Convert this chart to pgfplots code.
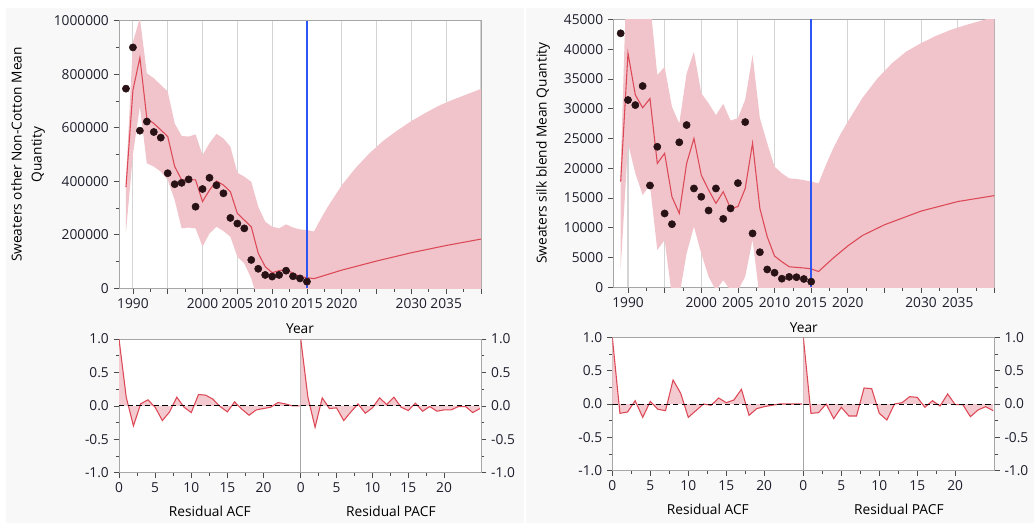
\documentclass[border=0pt]{standalone}
\usepackage{fontspec}
\setmainfont{Open Sans}
\usepackage{pgfplots}
\usepackage{pgfplotstable}
\pgfplotsset{compat=1.18}

\definecolor{band}{RGB}{240,196,202}
\definecolor{fitline}{RGB}{221,72,86}
\definecolor{dotc}{RGB}{40,18,22}
\definecolor{acffill}{RGB}{243,202,208}
\definecolor{bg}{RGB}{248,248,248}
\definecolor{framec}{RGB}{166,166,166}
\definecolor{gridc}{RGB}{212,212,212}
\definecolor{ticklab}{RGB}{30,30,45}
\definecolor{vline}{RGB}{45,85,245}

% residual autocorrelations, lags 0..25
\pgfplotstableread{
lag acfL pacfL acfR pacfR
0  1.00  1.00  1.00  1.00
1  0.13  0.13 -0.14 -0.14
2 -0.30 -0.32 -0.12 -0.13
3  0.03  0.12  0.05  0.00
4  0.09 -0.04 -0.20 -0.22
5 -0.02 -0.03  0.04 -0.05
6 -0.22 -0.22 -0.08 -0.18
7 -0.09 -0.09 -0.10 -0.18
8  0.13  0.03  0.36  0.24
9 -0.02 -0.11  0.16  0.23
10 -0.10 -0.03 -0.20 -0.14
11  0.17  0.12 -0.10 -0.24
12  0.16  0.02  0.00  0.00
13  0.10  0.13 -0.02  0.02
14 -0.01 -0.02  0.09  0.11
15 -0.09 -0.07  0.02  0.10
16  0.06  0.04  0.06 -0.05
17 -0.05 -0.08  0.22  0.05
18 -0.14 -0.01 -0.17 -0.03
19 -0.06 -0.08 -0.07  0.15
20 -0.04 -0.06 -0.04 -0.01
21 -0.02 -0.06 -0.02 -0.01
22  0.05 -0.01  0.00 -0.19
23  0.03 -0.01  0.00 -0.09
24  0.00 -0.10  0.00 -0.04
25  0.00 -0.04  0.00 -0.10
}\corr

\pgfplotsset{
  jmp/.style={scale only axis, axis background/.style={fill=white},
    axis line style={framec}, tick style={black!70, line width=0.5pt},
    tick align=outside, major tick length=4pt, minor tick length=2.5pt,
    tick label style={text=ticklab},
    /pgf/number format/assume math mode=true,
    /pgf/number format/1000 sep={}, scaled ticks=false},
  top/.style={jmp, xmin=1988, xmax=2040, ymin=0,
    xtick={1990,1995,...,2040},
    xticklabels={1990,,2000,2005,2010,2015,2020,,2030,2035,},
    yticklabel style={/pgf/number format/fixed, /pgf/number format/precision=0},
    minor x tick num=1, xmajorgrids, grid style={gridc, line width=0.8pt},
    xtick pos=bottom, ytick pos=left,
    xlabel=Year, xlabel style={at={(axis description cs:0.5,0)}, anchor=center, yshift=-30pt}},
  corr/.style={jmp, xmin=0, xmax=25.15, ymin=-1, ymax=1,
    ytick={-1,-0.5,0,0.5,1}, minor y tick num=1,
    xtick={0,5,10,15,20}, minor x tick num=1, xtick pos=bottom,
    yticklabel style={/pgf/number format/fixed, /pgf/number format/fixed zerofill, /pgf/number format/precision=1},
    xlabel style={at={(axis description cs:0.5,0)}, anchor=center, yshift=-29pt}},
  bandfill/.style={fill=band, draw=none},
  fit/.style={fitline, line width=0.8pt},
  obs/.style={only marks, mark=*, mark size=2.7pt, draw=dotc, fill=dotc},
  cut/.style={color=vline, line width=1.1pt},
  acfband/.style={fill=acffill, draw=none},
  acfline/.style={fitline, line width=0.8pt},
  zeroline/.style={black, dashed, line width=0.7pt, dash pattern=on 4pt off 2.5pt},
}

\begin{document}
\fontsize{10.3}{12.4}\selectfont
\begin{tikzpicture}
\useasboundingbox (0,0) rectangle (775.5pt,-392.25pt);
\fill[bg] (4.5pt,-6pt) rectangle (775.5pt,-392.25pt);
\draw[white, line width=1.2pt] (393.75pt,-6pt) -- (393.75pt,-392.25pt);

% ---------- left forecast ----------
\begin{axis}[top, at={(89.25pt,-15.5pt)}, anchor=north west,
  width=271.5pt, height=200.75pt, ymax=1000000,
  ytick={0,200000,400000,600000,800000,1000000}, minor y tick num=1,
  ylabel={Sweaters other Non-Cotton Mean\\Quantity},
  ylabel style={align=center, font=\fontsize{10.3}{15}\selectfont,
    at={(axis description cs:-0.2514,0.5)}, anchor=center}]
\addplot[bandfill] coordinates {
 (1989,400000)(1990,920000)(1991,1010000)(1992,803000)(1993,785000)(1994,760000)
 (1995,735000)(1996,616000)(1997,569000)(1998,567000)(1999,575000)(2000,498000)
 (2001,542000)(2002,577000)(2003,560000)(2004,529000)(2005,432000)(2006,417000)
 (2007,398000)(2008,305000)(2009,249000)(2010,230000)(2011,224000)(2012,239000)
 (2013,227000)(2014,220000)(2015,218000)(2016,212000)(2017,260000)(2018,305000)
 (2019,345000)(2020,385000)(2022,450000)(2024,505000)(2026,552000)(2028,590000)
 (2030,625000)(2032,655000)(2034,683000)(2036,705000)(2038,725000)(2040,745000)
 (2040,-400000)(2016,-140000)(2008,-50000)(2007,37000)(2006,93000)(2005,118000)
 (2004,193000)(2003,214000)(2002,230000)(2001,205000)(2000,156000)(1999,224000)
 (1998,227000)(1997,224000)(1996,330000)(1995,405000)(1994,436000)(1993,455000)
 (1992,467000)(1991,680000)(1990,500000)(1989,210000)};
\addplot[fit] coordinates {
 (1989,378000)(1990,740000)(1991,862000)(1992,635000)(1993,616000)(1994,592000)
 (1995,567000)(1996,455000)(1997,405000)(1998,405000)(1999,405000)(2000,324000)
 (2001,367000)(2002,401000)(2003,386000)(2004,361000)(2005,280000)(2006,255000)
 (2007,230000)(2008,131000)(2009,81000)(2010,58500)(2011,66000)(2012,71000)
 (2013,56000)(2014,44000)(2015,40000)(2016,36000)(2020,68000)(2025,102000)
 (2030,133000)(2035,160000)(2040,184000)};
\addplot[obs] coordinates {
 (1989,746000)(1990,900000)(1991,589000)(1992,623000)(1993,584000)(1994,563000)
 (1995,430000)(1996,389000)(1997,394000)(1998,407000)(1999,305000)(2000,371000)
 (2001,413000)(2002,385000)(2003,355000)(2004,263000)(2005,242000)(2006,224000)
 (2007,106000)(2008,73000)(2009,50000)(2010,44000)(2011,50000)(2012,66000)
 (2013,45000)(2014,37000)(2015,25000)};
\addplot[cut] coordinates {(2015,0) (2015,1000000)};
\end{axis}

% ---------- right forecast ----------
\begin{axis}[top, at={(460pt,-14.5pt)}, anchor=north west,
  width=285.75pt, height=201pt, ymax=45000,
  ytick={0,5000,...,45000},
  ylabel={Sweaters silk blend Mean Quantity},
  ylabel style={at={(axis description cs:-0.1845,0.5)}, anchor=center}]
\addplot[bandfill] coordinates {
 (1989,20000)(1990,60000)(1991,60000)(1992,60000)(1993,48000)(1994,35650)
 (1995,37000)(1996,30300)(1997,27500)(1998,35900)(1999,39550)(2000,32600)
 (2001,30900)(2002,28900)(2003,30800)(2004,28000)(2005,28400)(2006,31500)
 (2007,39000)(2008,28400)(2009,24200)(2010,20250)(2011,19150)(2012,18300)
 (2013,18200)(2014,18000)(2015,17750)(2016,17450)(2017,20500)(2018,23300)
 (2019,25700)(2020,27800)(2022,31800)(2024,35000)(2026,37600)(2028,39600)
 (2030,41000)(2032,42200)(2034,43200)(2036,44000)(2038,44700)(2040,45400)
 (2040,-15000)(2016,-12000)(2008,-2000)(2007,8000)(2006,1800)(2005,-500)
 (2004,-500)(2003,1200)(2002,-500)(2001,1800)(2000,5700)(1999,10200)
 (1998,5700)(1997,-1500)(1996,-1500)(1995,7950)(1994,6270)(1993,17180)
 (1992,15500)(1991,19140)(1990,24180)(1989,3000)};
\addplot[fit] coordinates {
 (1989,17750)(1990,39300)(1991,32300)(1992,30150)(1993,31700)(1994,20800)
 (1995,22500)(1996,15200)(1997,12400)(1998,20800)(1999,25000)(2000,18850)
 (2001,16350)(2002,14100)(2003,16050)(2004,13250)(2005,13550)(2006,16600)
 (2007,24200)(2008,13250)(2009,8500)(2010,5250)(2011,4300)(2012,3450)
 (2013,3350)(2014,3250)(2015,3100)(2016,2650)(2018,4900)(2020,6950)
 (2022,8700)(2025,10500)(2030,12800)(2035,14400)(2040,15400)};
\addplot[obs] coordinates {
 (1989,42650)(1990,31450)(1991,30600)(1992,33800)(1993,17100)(1994,23600)
 (1995,12400)(1996,10600)(1997,24350)(1998,27250)(1999,16600)(2000,15200)
 (2001,12900)(2002,16600)(2003,11500)(2004,13250)(2005,17500)(2006,27750)
 (2007,9050)(2008,5900)(2009,3000)(2010,2450)(2011,1450)(2012,1750)
 (2013,1700)(2014,1400)(2015,950)};
\addplot[cut, line width=1.4pt] coordinates {(2015,0) (2015,45000)};
\end{axis}

% ---------- left ACF / PACF ----------
\begin{axis}[corr, at={(89.25pt,-254.25pt)}, anchor=north west,
  width=136.3pt, height=100.3pt, ytick pos=left, xlabel={Residual ACF}]
\addplot[acfband] table[x=lag, y=acfL] {\corr} \closedcycle;
\addplot[acfline] table[x=lag, y=acfL] {\corr};
\addplot[zeroline] coordinates {(0,0) (25.15,0)};
\end{axis}
\begin{axis}[corr, at={(225.55pt,-254.25pt)}, anchor=north west,
  width=135.2pt, height=100.3pt, ytick pos=right, xlabel={Residual PACF}]
\addplot[acfband] table[x=lag, y=pacfL] {\corr} \closedcycle;
\addplot[acfline] table[x=lag, y=pacfL] {\corr};
\addplot[zeroline] coordinates {(0,0) (25.15,0)};
\end{axis}

% ---------- right ACF / PACF ----------
\begin{axis}[corr, at={(459.25pt,-253pt)}, anchor=north west,
  width=143.25pt, height=100pt, ytick pos=left, xlabel={Residual ACF}]
\addplot[acfband] table[x=lag, y=acfR] {\corr} \closedcycle;
\addplot[acfline] table[x=lag, y=acfR] {\corr};
\addplot[zeroline] coordinates {(0,0) (25.15,0)};
\end{axis}
\begin{axis}[corr, at={(602.5pt,-253pt)}, anchor=north west,
  width=143.25pt, height=100pt, ytick pos=right, xlabel={Residual PACF}]
\addplot[acfband] table[x=lag, y=pacfR] {\corr} \closedcycle;
\addplot[acfline] table[x=lag, y=pacfR] {\corr};
\addplot[zeroline] coordinates {(0,0) (25.15,0)};
\end{axis}
\end{tikzpicture}
\end{document}
